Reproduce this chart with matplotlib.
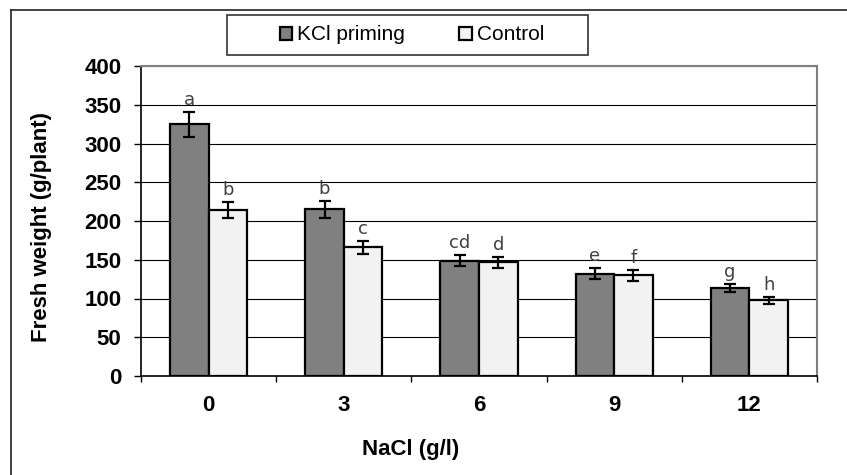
import matplotlib
matplotlib.use("Agg")
import matplotlib.pyplot as plt
import numpy as np
from matplotlib.patches import Rectangle
from matplotlib.lines import Line2D

categories = ["0", "3", "6", "9", "12"]
kcl_values = [325, 215, 149, 132, 114]
kcl_errors = [16, 11, 7, 7, 5]
ctrl_values = [214, 166, 147, 130, 98]
ctrl_errors = [10, 8, 7, 7, 4.5]
kcl_letters = ["a", "b", "cd", "e", "g"]
ctrl_letters = ["b", "c", "d", "f", "h"]
series_names = ["KCl priming", "Control"]
x_title = "NaCl (g/l)"
y_title = "Fresh weight (g/plant)"

W, H = 847, 475
fig = plt.figure(figsize=(W / 100, H / 100), dpi=100)
ax = fig.add_axes([141 / W, 1 - 376 / H, (817 - 141) / W, (376 - 66) / H])

x = np.arange(len(categories))
bw = 0.285
ekw = dict(elinewidth=1.6, capthick=1.6, capsize=4.5, ecolor="black")
b1 = ax.bar(x - bw / 2, kcl_values, bw, color="#808080", edgecolor="black",
            linewidth=1.6, yerr=kcl_errors, error_kw=ekw, zorder=3, label=series_names[0])
b2 = ax.bar(x + bw / 2, ctrl_values, bw, color="#f2f2f2", edgecolor="black",
            linewidth=1.6, yerr=ctrl_errors, error_kw=ekw, zorder=3, label=series_names[1])

for xi, v, e, t in zip(x - bw / 2, kcl_values, kcl_errors, kcl_letters):
    ax.annotate(t, (xi, v + e), xytext=(0, 5), textcoords="offset points",
                ha="center", va="baseline", fontsize=13, color="#404040",
                family="DejaVu Sans")
for xi, v, e, t in zip(x + bw / 2, ctrl_values, ctrl_errors, ctrl_letters):
    ax.annotate(t, (xi, v + e), xytext=(0, 5), textcoords="offset points",
                ha="center", va="baseline", fontsize=13, color="#404040",
                family="DejaVu Sans")

ax.set_xlim(-0.5, len(categories) - 0.5)
ax.set_ylim(0, 400)
ax.set_yticks(np.arange(0, 401, 50))
ax.yaxis.grid(True, color="black", linewidth=0.8, zorder=0)
ax.set_axisbelow(True)

ax.set_xticks(x)
ax.set_xticklabels(categories)
ax.set_xticks(np.arange(-0.5, len(categories), 1.0), minor=True)
ax.tick_params(axis="x", which="major", length=0, pad=14)
ax.tick_params(axis="x", which="minor", length=4, width=1, direction="out", color="black")
ax.tick_params(axis="y", length=5, width=1, direction="out", pad=9)
for lab in ax.get_xticklabels() + ax.get_yticklabels():
    lab.set_fontfamily("Liberation Sans")
    lab.set_fontweight("bold")
    lab.set_fontsize(16)

for s in ["left", "bottom"]:
    ax.spines[s].set_color("black")
    ax.spines[s].set_linewidth(1.2)
for s in ["top", "right"]:
    ax.spines[s].set_color("#808080")
    ax.spines[s].set_linewidth(1.5)

fig.text(42 / W, 1 - 227 / H, y_title, rotation=90, ha="center", va="center",
         fontsize=16, fontweight="bold", family="Liberation Sans")
fig.text(411 / W, 1 - 455 / H, x_title, ha="center", va="baseline",
         fontsize=16, fontweight="bold", family="Liberation Sans")

# legend box
fig.patches.append(Rectangle((227 / W, 1 - 55 / H), (588 - 227) / W, 40 / H,
                             transform=fig.transFigure, facecolor="white",
                             edgecolor="#333333", linewidth=1.2, zorder=1))
leg = fig.legend(handles=[b1, b2], labels=series_names, loc="center",
                 bbox_to_anchor=(412 / W, 1 - 35 / H), ncol=2, frameon=False,
                 prop={"family": "Liberation Sans", "size": 15},
                 handlelength=0.6, handleheight=0.6, handletextpad=0.25,
                 columnspacing=2.6)
leg.set_zorder(2)

# outer frame
fig.lines.append(Line2D([10.5 / W, 10.5 / W], [0, 1 - 9.5 / H], transform=fig.transFigure,
                        color="#222222", linewidth=1.2))
fig.lines.append(Line2D([10.5 / W, 1], [1 - 9.5 / H, 1 - 9.5 / H], transform=fig.transFigure,
                        color="#222222", linewidth=1.2))

fig.savefig("out.png", dpi=100, facecolor="white")
